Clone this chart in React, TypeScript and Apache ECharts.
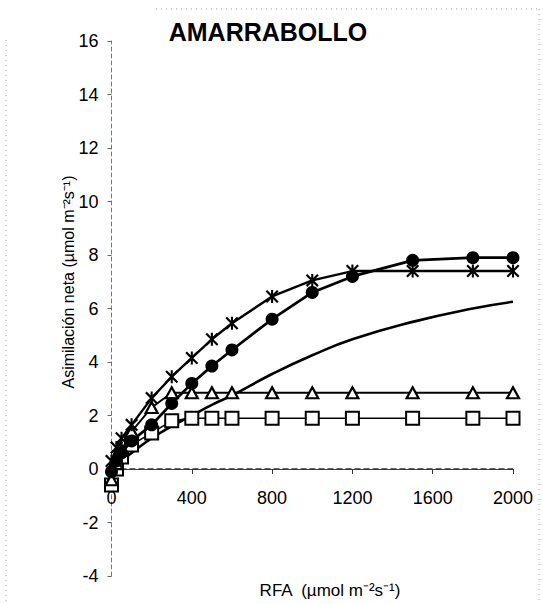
import React, { useEffect, useRef } from "react";
import * as echarts from "echarts";

const rfa = [0, 25, 50, 100, 200, 300, 400, 500, 600, 800, 1000, 1200, 1500, 1800, 2000];
const crosses = [0.3, 0.8, 1.15, 1.65, 2.65, 3.45, 4.15, 4.85, 5.45, 6.45, 7.05, 7.4, 7.4, 7.4, 7.4];
const circles = [-0.1, 0.3, 0.6, 1.05, 1.65, 2.45, 3.2, 3.85, 4.45, 5.6, 6.6, 7.2, 7.8, 7.9, 7.9];
const triangles = [-0.4, 0.2, 0.7, 1.4, 2.3, 2.85, 2.85, 2.85, 2.85, 2.85, 2.85, 2.85, 2.85, 2.85, 2.85];
const squares = [-0.6, 0.0, 0.45, 0.9, 1.35, 1.8, 1.9, 1.9, 1.9, 1.9, 1.9, 1.9, 1.9, 1.9, 1.9];
const curve = [-0.1, 0.1, 0.3, 0.6, 1.15, 1.6, 2.0, 2.4, 2.75, 3.55, 4.25, 4.85, 5.5, 6.0, 6.25];
const xRange = [0, 2000];

const title = "AMARRABOLLO";
const yName = "Asimilación neta (µmol m⁻²s⁻¹)";
const xName = "RFA  (µmol m⁻²s⁻¹)";

const FONT = "'Liberation Sans', Arial, sans-serif";
const STAR =
  "path://M0,1.2 L1.2,0 L10,8.8 L8.8,10 Z M8.8,0 L10,1.2 L1.2,10 L0,8.8 Z M4.2,0 L5.8,0 L5.8,10 L4.2,10 Z";

const pairs = (ys: number[]) => rfa.map((x, i) => [x, ys[i]]);

export default function App() {
  const ref = useRef<HTMLDivElement>(null);
  useEffect(() => {
    if (!ref.current) return;
    const chart = echarts.init(ref.current, null, { renderer: "svg" });
    const dotted = { stroke: "#9a9a9a", lineWidth: 1, lineDash: [1, 4] };
    const gridTop = 41;
    const gridBottom = 28;
    const plotH = 604 - gridTop - gridBottom;
    const yMin = -4;
    const yMax = 16;
    const zeroOffset = (plotH * (0 - yMin)) / (yMax - yMin);
    chart.setOption({
      animation: false,
      backgroundColor: "#ffffff",
      grid: { left: 111.5, right: 30, top: gridTop, bottom: gridBottom, containLabel: false },
      xAxis: {
        type: "value",
        min: xRange[0],
        max: xRange[1],
        interval: 400,
        position: "bottom",
        offset: -zeroOffset,
        axisLine: { show: true, onZero: false, lineStyle: { color: "#444", width: 1 } },
        axisTick: { show: true, length: 5, lineStyle: { color: "#333", width: 1 } },
        splitLine: { show: false },
        axisLabel: {
          fontSize: 18,
          color: "#000",
          margin: 20,
          fontFamily: FONT,
          formatter: (v: number) => String(v),
        },
      },
      yAxis: {
        type: "value",
        min: yMin,
        max: yMax,
        interval: 2,
        axisLine: { show: true, onZero: false, lineStyle: { color: "#777", width: 1, type: [4, 3] } },
        axisTick: { show: true, length: 4, lineStyle: { color: "#666" } },
        splitLine: { show: false },
        axisLabel: {
          fontSize: 18,
          color: "#000",
          margin: 13,
          fontFamily: FONT,
          formatter: (v: number) => String(v),
        },
      },
      graphic: [
        { type: "line", shape: { x1: 156, y1: 9, x2: 540, y2: 9 }, style: dotted, silent: true },
        { type: "line", shape: { x1: 6, y1: 40, x2: 6, y2: 604 }, style: dotted, silent: true },
        { type: "line", shape: { x1: 539, y1: 9, x2: 539, y2: 604 }, style: dotted, silent: true },
        {
          type: "text",
          x: 268,
          y: 32,
          style: {
            text: title,
            font: `bold 25px ${FONT}`,
            fill: "#000",
            textAlign: "center",
            textVerticalAlign: "middle",
          },
        },
        {
          type: "text",
          x: 68,
          y: 282,
          rotation: Math.PI / 2,
          style: {
            text: yName,
            font: `16px ${FONT}`,
            fill: "#000",
            textAlign: "center",
            textVerticalAlign: "middle",
          },
        },
        {
          type: "text",
          x: 330,
          y: 590,
          style: {
            text: xName,
            font: `17px ${FONT}`,
            fill: "#000",
            textAlign: "center",
            textVerticalAlign: "middle",
          },
        },
      ],
      series: [
        {
          type: "line",
          data: xRange.map((x) => [x, 0]),
          symbol: "none",
          showSymbol: false,
          silent: true,
          lineStyle: { color: "#333", width: 1.3, type: [6, 3] },
          z: 1,
        },
        {
          type: "line",
          data: pairs(curve),
          smooth: true,
          showSymbol: false,
          symbol: "none",
          lineStyle: { color: "#000", width: 2.6 },
          z: 2,
        },
        {
          type: "line",
          data: pairs(squares),
          symbol: "rect",
          symbolSize: 13,
          itemStyle: { color: "#fff", borderColor: "#000", borderWidth: 2 },
          lineStyle: { color: "#000", width: 1.6 },
          z: 3,
        },
        {
          type: "line",
          data: pairs(triangles),
          symbol: "triangle",
          symbolSize: [12, 11],
          itemStyle: { color: "#fff", borderColor: "#000", borderWidth: 2.2 },
          lineStyle: { color: "#000", width: 2 },
          z: 4,
        },
        {
          type: "line",
          data: pairs(circles),
          symbol: "circle",
          symbolSize: 13,
          itemStyle: { color: "#000", borderColor: "#000", borderWidth: 0 },
          lineStyle: { color: "#000", width: 2.7 },
          z: 5,
        },
        {
          type: "line",
          data: pairs(crosses),
          symbol: STAR,
          symbolSize: 13,
          itemStyle: { color: "#000", borderColor: "#000", borderWidth: 0 },
          lineStyle: { color: "#000", width: 2.4 },
          z: 6,
        },
      ],
    });
    return () => chart.dispose();
  }, []);
  return (
    <div
      ref={ref}
      style={{ position: "fixed", left: 0, top: 0, width: 543, height: 604, background: "#fff" }}
    />
  );
}
